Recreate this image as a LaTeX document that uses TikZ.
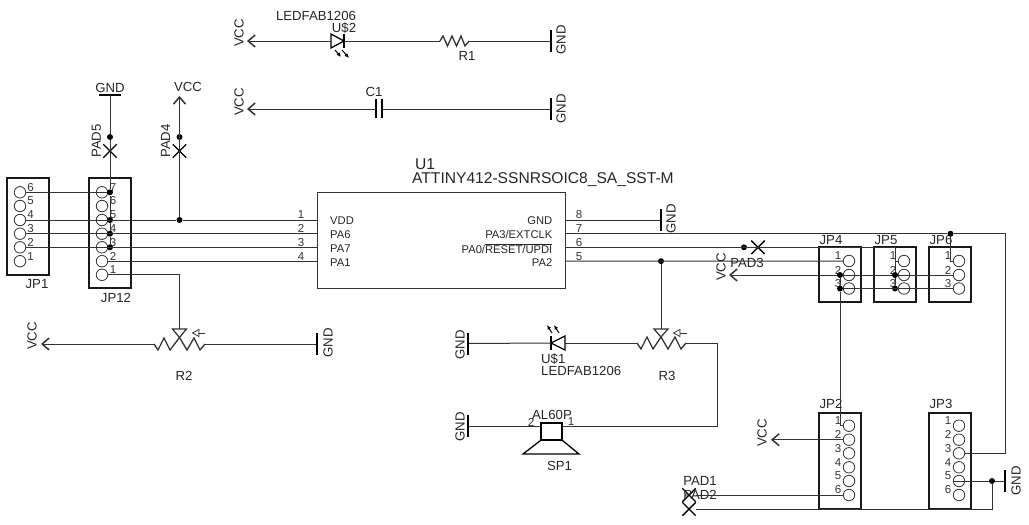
\documentclass[tikz,border=0pt]{standalone}
\usepackage{fontspec}
\setmainfont{Liberation Sans}
\usetikzlibrary{arrows.meta,shapes.misc}
\tikzset{
  wire/.style={line width=1pt,black!80},
  part/.style={line width=1.3pt,black},
  hdrbox/.style={draw,line width=2.1pt,black!90,inner sep=0pt,minimum width=42pt},
  pincircle/.style={circle,draw,line width=0.8pt,black!80,inner sep=0pt,minimum size=11.5pt},
  pinnum/.style={inner sep=0pt,font=\fontsize{11.5}{13}\selectfont,black!80},
  junction/.style={circle,fill,black,inner sep=0pt,minimum size=6pt},
  padx/.style={cross out,draw,line width=1.4pt,black,inner sep=0pt,minimum size=12pt},
  txt/.style={inner sep=0pt,font=\fontsize{13.2}{15}\selectfont,black!85},
  rottxt/.style={txt,rotate=90},
  iclabel/.style={inner sep=0pt,font=\fontsize{11.2}{13}\selectfont,black!85},
  gndv/.style={fill,black,inner sep=0pt,minimum width=2pt,minimum height=22pt},
  gndh/.style={fill,black,inner sep=0pt,minimum width=22pt,minimum height=2pt},
  vcctip/.style={wire,-{Straight Barb[length=7pt,width=12pt,line width=1.5pt]}},
}
\begin{document}
\begin{tikzpicture}[x=1pt,y=-1pt]
\useasboundingbox (0,0) rectangle (1029,525);

% headers
\node[hdrbox,minimum height=97pt] (JP1) at (28,226.5) {};
\node[txt] (JP1name) at (37,284) {JP1};
\foreach \n/\y in {6/192.3,5/206,4/220,3/233.7,2/247.3,1/261.2}{
  \node[pincircle] (JP1p\n) at (20,\y) {};
  \node[pinnum] (JP1n\n) at (30.5,\y-5) {\n};
}
\node[hdrbox,minimum height=110pt] (JP12) at (110,233) {};
\node[txt] (JP12name) at (116,298) {JP12};
\foreach \n/\y in {7/192.3,6/206,5/220,4/233.7,3/247.3,2/261.2,1/274.8}{
  \node[pincircle] (JP12p\n) at (102,\y) {};
  \node[pinnum] (JP12n\n) at (113,\y-5) {\n};
}
\foreach \nm/\cx/\tx in {JP4/840/831,JP5/895/886,JP6/950/941}{
  \node[hdrbox,minimum height=55pt] (\nm) at (\cx,274.5) {};
  \node[txt] (\nm name) at (\tx,240) {\nm};
  \foreach \n/\y in {1/261,2/275,3/288.5}{
    \node[pincircle] (\nm p\n) at (\cx+9,\y) {};
    \node[pinnum] (\nm n\n) at (\cx-2,\y-5) {\n};
  }
}
\foreach \nm/\cx/\tx in {JP2/840/831,JP3/950/941}{
  \node[hdrbox,minimum height=96pt] (\nm) at (\cx,461) {};
  \node[txt] (\nm name) at (\tx,404) {\nm};
  \foreach \n/\y in {1/425.7,2/439.7,3/453.3,4/467.3,5/481,6/495}{
    \node[pincircle] (\nm p\n) at (\cx+9,\y) {};
    \node[pinnum] (\nm n\n) at (\cx-2,\y-5) {\n};
  }
}

% chip
\node[draw,line width=0.9pt,black!80,inner sep=0pt,minimum width=248pt,minimum height=96pt] (U1) at (441,240) {};
\node[txt,anchor=west] (U1name) at (415,164) {\fontsize{15.6}{16}\selectfont U1};
\node[txt,anchor=west] (U1val) at (412,180) {\fontsize{15.6}{16}\selectfont ATTINY412-SSNRSOIC8\_SA\_SST-M};
\foreach \n/\y/\t in {1/220/VDD,2/233.7/PA6,3/247.3/PA7,4/261.2/PA1}{
  \coordinate (U1p\n) at (317,\y);
  \node[iclabel,anchor=west] (U1t\n) at (330,\y+1) {\t};
  \node[pinnum] (U1n\n) at (301,\y-5) {\n};
}
\foreach \n/\y/\t in {8/220/GND,7/233.7/{PA3/EXTCLK},6/247.3/{PA0/$\overline{\mbox{RESET/UPDI}}$},5/261.2/PA2}{
  \coordinate (U1p\n) at (565,\y);
  \node[iclabel,anchor=east] (U1t\n) at (552.5,\y+1) {\t};
  \node[pinnum] (U1n\n) at (579,\y-5) {\n};
}

% top row
\coordinate (vccA) at (247,41);
\node[rottxt] (vccAt) at (239,33) {VCC};
\coordinate (d2a) at (331,41);
\coordinate (d2k) at (344,41);
\draw[part] (d2a) -- ++(0,-7) -- (d2k) -- (331,48) -- cycle;
\draw[part] (344,34) -- (344,48);
\draw[line width=1pt,-{Latex[length=4.5pt,width=4pt]}] (335,50) -- (341,57);
\draw[line width=1pt,-{Latex[length=4.5pt,width=4pt]}] (342,50) -- (349,58);
\node[txt] (d2val) at (316,16) {LEDFAB1206};
\node[txt] (d2name) at (344,28) {U\$2};
\coordinate (r1a) at (440,41);
\coordinate (r1b) at (469,41);
\draw[wire,line width=1.3pt] (r1a) -- (443,36) -- (447.5,46) -- (452,36) -- (456.5,46) -- (461,36) -- (465,46) -- (r1b);
\node[txt] (r1name) at (467,56) {R1};
\node[gndv] (gndA) at (551,41) {};
\node[rottxt] (gndAt) at (561,40) {GND};
\draw[vcctip] (d2a) -- (vccA);
\draw[wire] (d2k) -- (r1a);
\draw[wire] (r1b) -- (gndA);

\coordinate (vccB) at (247,109);
\node[rottxt] (vccBt) at (239,102) {VCC};
\coordinate (c1a) at (376,109);
\coordinate (c1b) at (382,109);
\draw[part] (376,99) -- (376,118);
\draw[part] (382,99) -- (382,118);
\node[txt] (c1name) at (374,92) {C1};
\node[gndv] (gndB) at (551,109) {};
\node[rottxt] (gndBt) at (561,109) {GND};
\draw[vcctip] (c1a) -- (vccB);
\draw[wire] (c1b) -- (gndB);

% left pads
\node[gndh] (gndC) at (110,95) {};
\node[txt] (gndCt) at (110,88) {GND};
\node[junction] (padfivej) at (110,137) {};
\node[padx] (padfive) at (110,151) {};
\node[rottxt] (padfivet) at (96.5,141) {PAD5};
\node[junction] (j7) at (110,192.3) {};
\node[junction] (j5) at (110,220) {};
\node[junction] (j4) at (110,233.7) {};
\node[junction] (j3) at (110,247.3) {};
\draw[wire] (gndC) -- (padfivej) -- (j7) -- (j5) -- (j4) -- (j3);
\coordinate (vccC) at (179.5,96);
\node[txt] (vccCt) at (188,87) {VCC};
\node[junction] (padfourj) at (179.5,137) {};
\node[padx] (padfour) at (179.5,151) {};
\node[rottxt] (padfourt) at (165.5,141) {PAD4};
\node[junction] (jvdd) at (179.5,220) {};
\draw[vcctip] (jvdd) -- (vccC);

\draw[wire] (JP1p6.east) -- (j7);
\draw[wire] (JP1p4.east) -- (jvdd) -- (U1p1);
\draw[wire] (JP1p3.east) -- (U1p2);
\draw[wire] (JP1p2.east) -- (U1p3);
\draw[wire] (JP12p2.east) -- (U1p4);

% R2
\coordinate (r2a) at (154,344);
\coordinate (r2b) at (205,344);
\coordinate (r2w) at (179.5,329);
\draw[wire,line width=1.3pt] (r2a) -- (158,350) -- (164,338) -- (170,350) -- (179.5,337.5) -- (187,350) -- (194,338) -- (200,350) -- (r2b);
\draw[wire,line width=1.2pt] (172.5,329) -- (186.5,329) -- (179.5,337.5) -- cycle;
\draw[wire] (205,333) -- (198,333);
\draw[line width=0.8pt,black!80] (199,329.5) -- (192.5,333) -- (199,336.5) -- cycle;
\coordinate (vccD) at (41,344);
\node[rottxt] (vccDt) at (32,336) {VCC};
\node[gndv] (gndD) at (317,344) {};
\node[rottxt] (gndDt) at (328,343) {GND};
\node[txt] (r2name) at (184,376) {R2};
\draw[vcctip] (r2a) -- (vccD);
\draw[wire] (r2b) -- (gndD);
\draw[wire] (JP12p1.east) -| (r2w);

% right of chip
\node[gndv] (gndE) at (661,220) {};
\node[rottxt] (gndEt) at (671,219) {GND};
\draw[wire] (U1p8) -- (gndE);
\node[junction] (j6top) at (950.5,233.7) {};
\coordinate (corner7) at (1005,233.7);
\draw[wire] (U1p7) -- (j6top) -- (corner7) |- (JP3p3.east);
\draw[wire] (j6top) |- (JP6p1.west);
\node[junction] (padthreej) at (744,247.3) {};
\node[padx] (padthree) at (758,247.3) {};
\node[txt] (padthreet) at (747,263) {PAD3};
\coordinate (corner6) at (895,247.3);
\draw[wire] (U1p6) -- (corner6) |- (JP5p1.west);
\node[junction] (j5r) at (661,261.2) {};
\draw[wire] (U1p5) -- (JP4p1.west);
\coordinate (vccE) at (729,275);
\node[rottxt] (vccEt) at (721,267) {VCC};
\draw[vcctip] (JP6p2.west) -- (vccE);
\node[junction] (jp42) at (840,275) {};
\node[junction] (jp52) at (895,275) {};
\node[junction] (jp43) at (840,288.5) {};
\node[junction] (jp53) at (895,288.5) {};
\draw[wire] (jp43) -- (JP6p3.west);
\draw[wire] (jp42) -- (jp43) |- (JP2p1.west);
\draw[wire] (corner6) -- (jp52) -- (jp53);

% R3, led, speaker
\coordinate (r3a) at (637,343);
\coordinate (r3b) at (686,343);
\coordinate (r3w) at (661,329);
\draw[wire,line width=1.3pt] (r3a) -- (641,349) -- (647,337) -- (653,349) -- (661,337) -- (668,349) -- (675,337) -- (681,349) -- (r3b);
\draw[wire,line width=1.2pt] (654,329) -- (668,329) -- (661,337) -- cycle;
\draw[wire] (687,333) -- (680,333);
\draw[line width=0.8pt,black!80] (680,329.5) -- (673.5,333) -- (680,336.5) -- cycle;
\draw[wire] (j5r) -- (r3w);
\node[txt] (r3name) at (667,376) {R3};
\coordinate (d1k) at (551,343);
\coordinate (d1a) at (565,343);
\draw[part] (d1a) -- ++(0,-7) -- (d1k) -- (565,350) -- cycle;
\draw[part] (551,336) -- (551,350);
\draw[line width=1pt,-{Latex[length=4.5pt,width=4pt]}] (552,333) -- (547,325);
\draw[line width=1pt,-{Latex[length=4.5pt,width=4pt]}] (559,333) -- (554,325);
\node[txt,anchor=west] (d1name) at (541,359) {U\$1};
\node[txt,anchor=west] (d1val) at (541,371) {LEDFAB1206};
\node[gndv] (gndF) at (468,343.5) {};
\node[rottxt] (gndFt) at (460,345) {GND};
\draw[wire] (gndF) -- (d1k);
\draw[wire] (d1a) -- (r3a);
\node[draw,line width=1.2pt,black,inner sep=0pt,minimum width=21pt,minimum height=17pt] (SP1box) at (551.5,431.5) {};
\draw[part] (SP1box.south west) -- (523,454) -- (579,454) -- (SP1box.south east);
\node[txt] (SP1val) at (552,415) {AL60P};
\node[pinnum] (SP1n2) at (531,422) {2};
\node[pinnum] (SP1n1) at (571,422) {1};
\node[txt] (SP1name) at (559.5,466) {SP1};
\node[gndv] (gndG) at (468,426) {};
\node[rottxt] (gndGt) at (460,427) {GND};
\coordinate (r3down) at (717,426);
\coordinate (SP1r) at (562,426);
\coordinate (SP1l) at (541,426);
\draw[wire] (gndG) -- (SP1l);
\draw[wire] (r3b) -| (r3down) -- (SP1r);

% bottom right
\coordinate (vccF) at (771,439.7);
\node[rottxt] (vccFt) at (762,433) {VCC};
\draw[vcctip] (JP2p2.west) -- (vccF);
\node[padx] (padone) at (689,495) {};
\node[padx] (padtwo) at (689,509) {};
\node[txt] (padonet) at (700,481) {PAD1};
\node[txt] (padtwot) at (700,495) {PAD2};
\draw[wire] (padone) -- (JP2p6.west);
\node[gndv] (gndH) at (1005,481) {};
\node[rottxt] (gndHt) at (1016,481) {GND};
\node[junction] (jgnd) at (992,481) {};
\draw[wire] (JP3p5.west) -- (jgnd) -- (gndH);
\draw[wire] (jgnd) |- (padtwo);
\end{tikzpicture}
\end{document}
